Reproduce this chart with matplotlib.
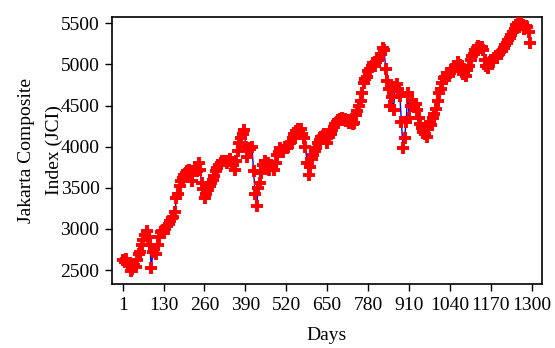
import numpy as np
import matplotlib.pyplot as plt

plt.rcParams['font.family'] = ['Liberation Serif', 'DejaVu Serif']

# JCI closing values, one every 5 trading days
jci = [
    2620, 2600, 2640, 2580, 2560, 2490, 2510, 2560, 2540, 2620,
    2700, 2720, 2800, 2870, 2930, 2980, 2900, 2800, 2530, 2720,
    2760, 2700, 2800, 2900, 2960, 2980, 2950, 3000, 3030, 3060,
    3100, 3130, 3150, 3200, 3380, 3420, 3520, 3580, 3620, 3660,
    3680, 3700, 3720, 3680, 3580, 3700, 3750, 3700, 3800, 3720,
    3560, 3480, 3380, 3420, 3470, 3520, 3560, 3600, 3640, 3700,
    3740, 3780, 3800, 3820, 3830, 3820, 3800, 3830, 3850, 3810,
    3780, 3720, 3820, 3950, 4040, 4100, 4160, 4200, 4000, 3880,
    3980, 3970, 4000, 3700, 3420, 3280, 3500, 3560, 3680, 3780,
    3830, 3750, 3800, 3720, 3780, 3760, 3720, 3800, 3900, 3940,
    3980, 3960, 3940, 4000, 3980, 4000, 4040, 4060, 4100, 4160,
    4190, 4220, 4180, 4210, 4160, 4100, 4000, 3800, 3650, 3750,
    3850, 3900, 3950, 3990, 4040, 4080, 4120, 4130, 4150, 4100,
    4050, 4120, 4160, 4200, 4240, 4270, 4300, 4320, 4340, 4350,
    4330, 4340, 4310, 4330, 4290, 4300, 4270, 4290, 4380, 4430,
    4500, 4560, 4650, 4780, 4820, 4850, 4920, 4950, 4980, 5020,
    4980, 5030, 5050, 5080, 5130, 5200, 5180, 4950, 4800, 4700,
    4500, 4600, 4450, 4720, 4760, 4700, 4620, 4300, 3980, 4100,
    4300, 4650, 4350, 4500, 4560, 4480, 4520, 4450, 4350, 4280,
    4230, 4180, 4150, 4120, 4220, 4300, 4260, 4350, 4400, 4460,
    4560, 4650, 4700, 4780, 4830, 4850, 4900, 4860, 4900, 4950,
    4920, 4980, 4970, 5030, 4990, 4950, 4880, 4900, 4860, 4930,
    4980, 5050, 5100, 5130, 5170, 5200, 5220, 5200, 5210, 5180,
    5060, 4980, 4960, 5020, 5050, 5030, 5080, 5100, 5080, 5130,
    5150, 5160, 5200, 5240, 5260, 5300, 5320, 5360, 5400, 5430,
    5480, 5500, 5450, 5500, 5480, 5430, 5470, 5450, 5400, 5260,
]
days = 1 + 5 * np.arange(len(jci))

xticks = [1, 130, 260, 390, 520, 650, 780, 910, 1040, 1170, 1300]
yticks = [2500, 3000, 3500, 4000, 4500, 5000, 5500]

fig = plt.figure(figsize=(5.55, 3.48), dpi=100)
ax = fig.add_axes([0.2018, 0.1839, 0.7748, 0.7672])

ax.plot(days, jci, color='blue', lw=1.0, zorder=2)
ax.plot(days, jci, ls='none', marker='+', ms=8.5, mew=2.8, color='red', zorder=3)

ax.set_xlim(-34, 1333)
ax.set_ylim(2330, 5577)
ax.set_xticks(xticks)
ax.set_yticks(yticks)
ax.tick_params(direction='out', length=5, width=1, labelsize=14, pad=4)
for s in ax.spines.values():
    s.set_linewidth(1.2)

ax.set_xlabel('Days', fontsize=14)
ax.set_ylabel('Jakarta Composite\nIndex (JCI)', fontsize=14, linespacing=1.75)
ax.yaxis.set_label_coords(-0.115, 0.5)
ax.xaxis.set_label_coords(0.5, -0.16)

fig.savefig('out.png', dpi=100)
